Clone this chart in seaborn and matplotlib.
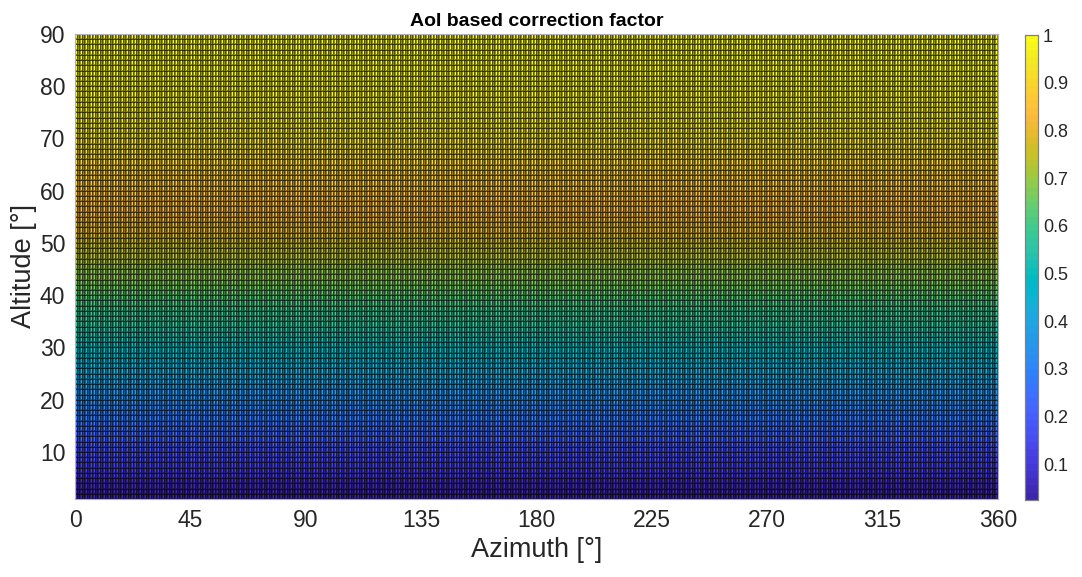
import numpy as np
import pandas as pd
import matplotlib
matplotlib.use("Agg")
import matplotlib.pyplot as plt
from matplotlib.colors import ListedColormap
from matplotlib.ticker import FuncFormatter
import seaborn as sns

# Azimuth grid (deg) and altitude grid (deg)
azimuth = list(range(0, 361))
altitude = list(range(1, 91))
# correction factor read per altitude (constant over azimuth)
factor = [0.025, 0.036, 0.052, 0.070, 0.087, 0.104, 0.122, 0.139, 0.156, 0.174,
          0.191, 0.208, 0.225, 0.242, 0.259, 0.276, 0.292, 0.309, 0.326, 0.342,
          0.358, 0.375, 0.391, 0.407, 0.423, 0.438, 0.454, 0.469, 0.485, 0.500,
          0.515, 0.530, 0.545, 0.559, 0.574, 0.588, 0.602, 0.616, 0.629, 0.643,
          0.656, 0.669, 0.682, 0.695, 0.707, 0.719, 0.731, 0.743, 0.755, 0.766,
          0.777, 0.788, 0.799, 0.809, 0.819, 0.829, 0.839, 0.848, 0.857, 0.866,
          0.875, 0.883, 0.891, 0.899, 0.906, 0.914, 0.921, 0.927, 0.934, 0.940,
          0.946, 0.951, 0.956, 0.961, 0.966, 0.970, 0.974, 0.978, 0.982, 0.985,
          0.988, 0.990, 0.993, 0.995, 0.996, 0.998, 0.999, 0.9994, 0.9998, 1.0]
x_ticks = [0, 45, 90, 135, 180, 225, 270, 315, 360]
y_ticks = [10, 20, 30, 40, 50, 60, 70, 80, 90]
cbar_ticks = [0.1, 0.2, 0.3, 0.4, 0.5, 0.6, 0.7, 0.8, 0.9, 1.0]

parula_data = [
    [0.2422, 0.1504, 0.6603], [0.2504, 0.1650, 0.7076], [0.2578, 0.1818, 0.7511], [0.2647, 0.1978, 0.7952],
    [0.2706, 0.2147, 0.8364], [0.2751, 0.2342, 0.8710], [0.2783, 0.2559, 0.8991], [0.2803, 0.2782, 0.9221],
    [0.2813, 0.3006, 0.9414], [0.2810, 0.3228, 0.9579], [0.2795, 0.3447, 0.9717], [0.2760, 0.3667, 0.9829],
    [0.2699, 0.3892, 0.9906], [0.2602, 0.4123, 0.9952], [0.2440, 0.4358, 0.9988], [0.2206, 0.4603, 0.9973],
    [0.1963, 0.4847, 0.9892], [0.1834, 0.5074, 0.9798], [0.1786, 0.5289, 0.9682], [0.1764, 0.5499, 0.9520],
    [0.1687, 0.5703, 0.9359], [0.1540, 0.5902, 0.9218], [0.1460, 0.6091, 0.9079], [0.1380, 0.6276, 0.8973],
    [0.1248, 0.6459, 0.8883], [0.1113, 0.6635, 0.8763], [0.0952, 0.6798, 0.8598], [0.0689, 0.6948, 0.8394],
    [0.0297, 0.7082, 0.8163], [0.0036, 0.7203, 0.7917], [0.0067, 0.7312, 0.7660], [0.0433, 0.7411, 0.7394],
    [0.0964, 0.7500, 0.7120], [0.1408, 0.7584, 0.6842], [0.1717, 0.7670, 0.6554], [0.1938, 0.7758, 0.6251],
    [0.2161, 0.7843, 0.5923], [0.2470, 0.7918, 0.5567], [0.2906, 0.7973, 0.5188], [0.3406, 0.8008, 0.4789],
    [0.3909, 0.8029, 0.4354], [0.4456, 0.8024, 0.3909], [0.5044, 0.7993, 0.3480], [0.5616, 0.7942, 0.3045],
    [0.6174, 0.7876, 0.2612], [0.6720, 0.7793, 0.2227], [0.7242, 0.7698, 0.1910], [0.7738, 0.7598, 0.1646],
    [0.8203, 0.7498, 0.1535], [0.8634, 0.7406, 0.1596], [0.9035, 0.7330, 0.1774], [0.9393, 0.7288, 0.2100],
    [0.9728, 0.7298, 0.2394], [0.9956, 0.7434, 0.2371], [0.9970, 0.7659, 0.2199], [0.9952, 0.7893, 0.2028],
    [0.9892, 0.8136, 0.1885], [0.9786, 0.8386, 0.1766], [0.9676, 0.8639, 0.1643], [0.9610, 0.8890, 0.1537],
    [0.9597, 0.9135, 0.1423], [0.9628, 0.9373, 0.1265], [0.9691, 0.9606, 0.1064], [0.9769, 0.9839, 0.0805]]
parula = ListedColormap(parula_data, name="parula")

sns.set_style("white")
plt.rcParams['font.family'] = ['Liberation Sans', 'DejaVu Sans']
text_col = '#262626'

# faces: value taken from the lower-left vertex (surf faceted shading)
fac = np.array(factor)
grid = np.tile(fac[:-1, None], (1, len(azimuth) - 1))
df = pd.DataFrame(grid, index=altitude[:-1], columns=azimuth[:-1])

fig = plt.figure(figsize=(10.82, 5.77), dpi=100)
ax = fig.add_axes([75 / 1082, 1 - 499 / 577, 923 / 1082, 465 / 577])
cax = fig.add_axes([1025 / 1082, 1 - 500 / 577, 13 / 1082, 465 / 577])

sns.heatmap(df, ax=ax, cbar_ax=cax, cmap=parula, vmin=fac.min(), vmax=fac.max(),
            linewidths=0.25, linecolor=(0, 0, 0, 0.42), xticklabels=False, yticklabels=False)
mesh = ax.collections[0]
mesh.set_antialiased(True)
ax.invert_yaxis()
ax.set_xlim(0, len(azimuth) - 1)
ax.set_ylim(0, len(altitude) - 1)

ax.set_xticks([azimuth.index(v) for v in x_ticks])
ax.set_xticklabels([str(v) for v in x_ticks], fontsize=16.5, color=text_col)
ax.set_yticks([altitude.index(v) for v in y_ticks])
ax.set_yticklabels([str(v) for v in y_ticks], fontsize=16.5, color=text_col, rotation=0)
ax.tick_params(axis='both', length=0, pad=7)
ax.set_xlabel('Azimuth [°]', fontsize=19.5, color=text_col, labelpad=4)
ax.set_ylabel('Altitude [°]', fontsize=19.5, color=text_col, labelpad=2)
ax.set_title('AoI based correction factor', fontsize=14, fontweight='bold', color='black', pad=6)
for s in ax.spines.values():
    s.set_visible(True)
    s.set_color('#b0b0b0')
    s.set_linewidth(0.8)

cax.set_yticks(cbar_ticks)
cax.yaxis.set_major_formatter(FuncFormatter(lambda v, p: f"{v:g}"))
cax.tick_params(labelsize=13, colors=text_col, length=3, direction='in', width=0.6)
for t in cax.get_yticklabels():
    t.set_color(text_col)
for s in cax.spines.values():
    s.set_visible(True)
    s.set_color('#808080')
    s.set_linewidth(0.8)

fig.savefig('out.png', dpi=100)
